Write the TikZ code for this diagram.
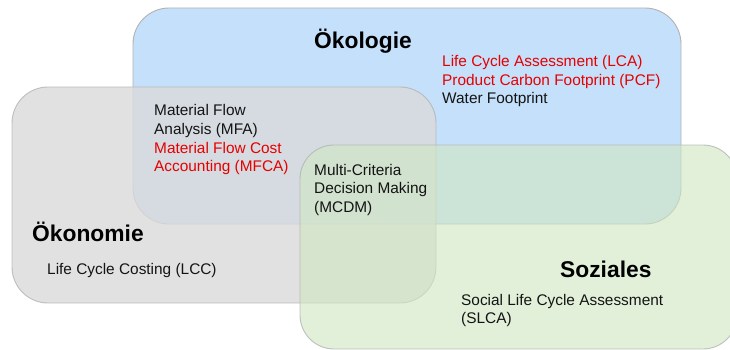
\documentclass[tikz,border=0pt]{standalone}
\usepackage{fontspec}
\setmainfont{Liberation Sans}
\definecolor{oekoblue}{RGB}{197,224,250}
\definecolor{oekogray}{RGB}{218,218,218}
\definecolor{oekogreen}{RGB}{208,231,195}
\definecolor{areaedge}{RGB}{178,178,178}
\definecolor{hlred}{RGB}{230,0,0}
\definecolor{bodytext}{RGB}{20,20,20}
\begin{document}
\begin{tikzpicture}[x=1pt,y=-1pt,
  area/.style={draw=areaedge, line width=0.9pt, anchor=north west,
    inner sep=0pt, outer sep=0pt},
  areatitle/.style={font=\fontsize{22.8}{27}\selectfont\bfseries,
    anchor=base west, inner sep=0pt, text=black},
  body/.style={font=\fontsize{15.4}{18.6}\selectfont, anchor=base west,
    inner sep=0pt, align=left, text=bodytext},
]
\useasboundingbox (0,0) rectangle (730,350);
\clip (0,0) rectangle (730,350);

% the three overlapping areas
\node[area, fill=oekoblue, rounded corners=36pt,
  minimum width=548pt, minimum height=216pt] (oeko) at (133,8) {};
\node[area, fill=oekogray, fill opacity=0.8, draw opacity=0.8,
  rounded corners=36pt,
  minimum width=424pt, minimum height=216pt] (oekon) at (12,87) {};
\node[area, fill=oekogreen, fill opacity=0.62, draw opacity=0.8,
  rounded corners=34pt,
  minimum width=437pt, minimum height=204pt] (sozial) at (300,145) {};

% area titles
\node[areatitle] (tOeko) at (314,49) {Ökologie};
\node[areatitle] (tOekon) at (32,241) {Ökonomie};
\node[areatitle] (tSozial) at (560,277) {Soziales};

% methods (base anchor sits on the last line of each block)
\node[body] (lca) at (442,104)
  {\textcolor{hlred}{Life Cycle Assessment (LCA)}\\
   \textcolor{hlred}{Product Carbon Footprint (PCF)}\\
   Water Footprint};
\node[body] (mfa) at (154,171.8)
  {Material Flow\\
   Analysis (MFA)\\
   \textcolor{hlred}{Material Flow Cost}\\
   \textcolor{hlred}{Accounting (MFCA)}};
\node[body] (mcdm) at (314,212.2)
  {Multi-Criteria\\
   Decision Making\\
   (MCDM)};
\node[body] (lcc) at (47,274.3) {Life Cycle Costing (LCC)};
\node[body] (slca) at (461,323.6)
  {Social Life Cycle Assessment\\
   (SLCA)};
\end{tikzpicture}
\end{document}
